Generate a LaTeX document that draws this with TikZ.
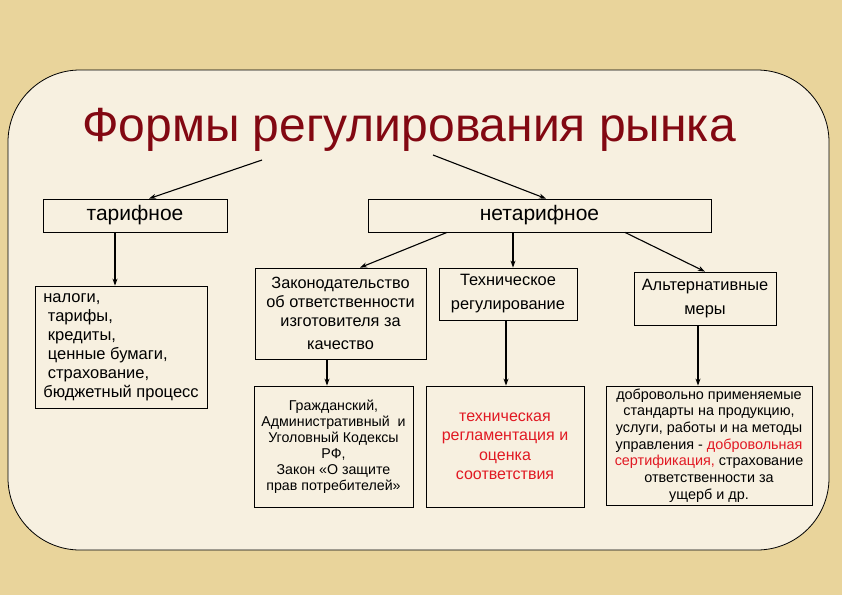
\documentclass[tikz,border=0pt]{standalone}
\usepackage{fontspec}
\setmainfont{Liberation Sans}
\usepackage{tikz}
\usetikzlibrary{arrows.meta,positioning,calc}
\definecolor{bgtan}{RGB}{233,212,155}
\definecolor{panelcream}{RGB}{247,240,224}
\definecolor{titlered}{RGB}{130,8,18}
\definecolor{textred}{RGB}{225,25,35}

\begin{document}
\begin{tikzpicture}[x=1pt, y=-1pt,
    box/.style={draw, line width=0.8pt, inner sep=0pt, align=center,
      font=\fontsize{16.3}{19}\selectfont},
    arr/.style={-{Stealth[length=7pt,width=5pt]}, line width=1.1pt}]
        % background and panel
        \useasboundingbox[fill=bgtan] (0,0) rectangle (842,595);
        \draw[fill=panelcream, line width=0.8pt, rounded corners=72pt] (8,70) rectangle (829,550);

        \node[anchor=base, text=titlered, font=\fontsize{48}{58}\selectfont] (title) at (409,141) {Формы регулирования рынка};

        % first level
        \node[box, minimum width=184pt, minimum height=33pt, font=\fontsize{21}{24}\selectfont] (tarif) at (135,215.5) {тарифное};
        \node[box, minimum width=343pt, minimum height=33pt, font=\fontsize{21}{24}\selectfont] (netarif) at (539.5,215.5) {нетарифное};

        % tariff measures
        \node[box, align=left, minimum width=172pt, minimum height=122pt, font=\fontsize{16.5}{19}\selectfont] (spisok) at (121,347)
            {налоги,\\\ тарифы,\\\ кредиты,\\\ ценные бумаги,\\\ страхование,\\ бюджетный процесс};

        % non-tariff measures
        \node[box, minimum width=171pt, minimum height=91pt] (zakon) at (340.5,313.5)
            {Законодательство\\об ответственности\\изготовителя за\\[4pt]качество};
        \node[box, minimum width=138pt, minimum height=52pt, font=\fontsize{16.4}{24}\selectfont] (tehreg) at (508,294)
            {Техническое\\регулирование};
        \node[box, minimum width=142pt, minimum height=53pt, font=\fontsize{16.4}{24}\selectfont] (alt) at (705,298.5)
            {Альтернативные\\меры};

        % bottom row
        \node[box, minimum width=159pt, minimum height=121pt, font=\fontsize{14.2}{16}\selectfont] (grazh) at (333.5,446.5)
            {Гражданский,\\Административный\ \ и\\Уголовный Кодексы\\РФ,\\Закон «О защите\\прав потребителей»};
        \node[box, minimum width=158pt, minimum height=121pt, text=textred, font=\fontsize{16}{19.5}\selectfont] (tehnich) at (505,446.5)
            {техническая\\регламентация и\\оценка\\соответствия};
        \node[box, minimum width=206pt, minimum height=119pt, font=\fontsize{14.4}{16.7}\selectfont] (dobr) at (709,445.5)
            {добровольно применяемые\\стандарты на продукцию,\\услуги, работы и на методы\\управления - {\color{textred}добровольная}\\{\color{textred}сертификация,} страхование\\ответственности за\\ущерб и др.};

        % connectors
        \coordinate (tl) at (262,160);
        \coordinate (tr) at (433,155);
        \draw[arr] (tl) -- ([xshift=14pt]tarif.north);
        \draw[arr] (tr) -- ([xshift=6.5pt]netarif.north);
        \draw[arr] ([xshift=-20pt]tarif.south) -- ([xshift=-20pt]tarif.south |- spisok.north);
        \draw[arr] ([xshift=-92.5pt]netarif.south) -- ([xshift=19.5pt]zakon.north);
        \draw[arr] ([xshift=-26.5pt]netarif.south) -- ([xshift=-26.5pt]netarif.south |- tehreg.north);
        \draw[arr] ([xshift=85.5pt]netarif.south) -- (alt.north);
        \draw[arr] ([xshift=-13.5pt]zakon.south) -- ([xshift=-13.5pt]zakon.south |- grazh.north);
        \draw[arr] ([xshift=-2pt]tehreg.south) -- ([xshift=-2pt]tehreg.south |- tehnich.north);
        \draw[arr] ([xshift=-7pt]alt.south) -- ([xshift=-7pt]alt.south |- dobr.north);
    \end{tikzpicture}
\end{document}
